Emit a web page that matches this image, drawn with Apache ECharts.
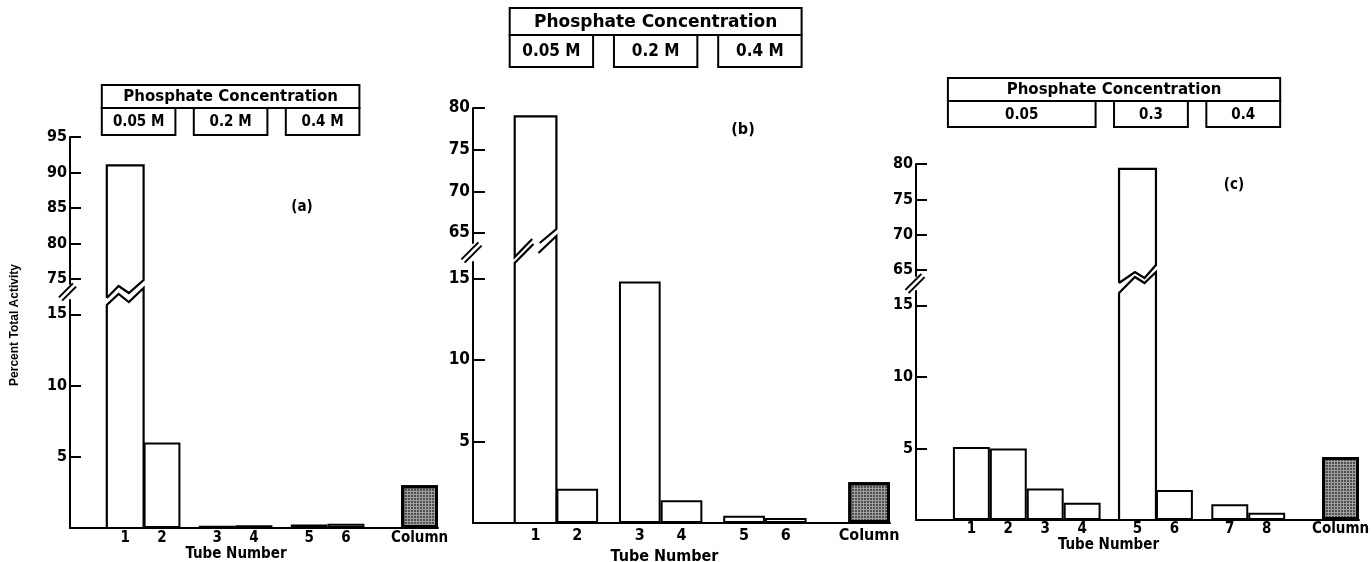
<!DOCTYPE html>
<html><head><meta charset="utf-8">
<script src="https://cdn.jsdelivr.net/npm/echarts@6/dist/echarts.min.js"></script>
<style>html,body{margin:0;padding:0;background:#fff}#c{width:1371px;height:562px}</style>
</head><body><div id="c"></div>
<script>
// ---------------- data ----------------
const tubesA = [['1','2'],['3','4'],['5','6']];
const valuesA = [[91, 6.0],[0.15, 0.2],[0.25, 0.3]];
const columnA = 3.0;
const concA = ['0.05 M','0.2 M','0.4 M'];
const lowTicksA = [5, 10, 15];
const highTicksA = [75, 80, 85, 90, 95];

const tubesB = [['1','2'],['3','4'],['5','6']];
const valuesB = [[79, 2.1],[14.8, 1.4],[0.45, 0.3]];
const columnB = 2.5;
const concB = ['0.05 M','0.2 M','0.4 M'];
const lowTicksB = [5, 10, 15];
const highTicksB = [65, 70, 75, 80];

const tubesC = [['1','2','3','4'],['5','6'],['7','8']];
const valuesC = [[5.1, 5.0, 2.2, 1.2],[79.3, 2.1],[1.1, 0.5]];
const columnC = 4.4;
const concC = ['0.05','0.3','0.4'];
const lowTicksC = [5, 10, 15];
const highTicksC = [65, 70, 75, 80];

const headerTitle = 'Phosphate Concentration';
const columnLabel = 'Column';
const xName = 'Tube Number';
const yName = 'Percent Total Activity';
const panelLabels = ['(a)', '(b)', '(c)'];

// ---------------- styles / layout ----------------
const FONT_NUM = "'Liberation Sans Narrow','DejaVu Sans Condensed','Liberation Sans',sans-serif";
const FONT_HEAD = "'DejaVu Sans','Liberation Sans',sans-serif";

const zigA = {
  lower: [[[0,'end'],[0,13],[0.32,2],[0.6,10],[1,-4],[1,'end']]],
  upper: [[[0,6],[0,'end'],[1,'end'],[1,-12],[0.6,1],[0.32,-6],[0,6]]]
};
const slashB = {
  lower: [[[0,'end'],[0,10.5],[0.45,-8.5]], [[0.57,0.5],[1,-16.5],[1,'end']]],
  upper: [[[0.42,-13.5],[0,4.5],[0,'end'],[1,'end'],[1,-23.5],[0.6,-9.5]]]
};
const zigC = {
  lower: [[[0,'end'],[0,9.5],[0.43,-6.5],[0.69,-0.5],[1,-11.5],[1,'end']]],
  upper: [[[0,-0.5],[0,'end'],[1,'end'],[1,-18.5],[0.69,-5.5],[0.43,-11.5],[0,-0.5]]]
};

const panels = [
  {tubes: tubesA, values: valuesA, column: columnA, conc: concA, lowTicks: lowTicksA, highTicks: highTicksA,
   left: 70, right: 438, lowTop: 300, lowBottom: 528, upTop: 137, upBottom: 284, lowMax: 16, upMin: 74.3, upMax: 95,
   font: 16, xFont: 15, labelMargin: 3, nameGap: 19, namePad: 36, tickLen: 11,
   head: {top: 85, titleH: 23, subH: 27, font: 15, subFont: 15, shift: -5},
   shape: zigA, brk: {dx: -2.5, half: 7}, label: {x: 302, y: 207, size: 15}},
  {tubes: tubesB, values: valuesB, column: columnB, conc: concB, lowTicks: lowTicksB, highTicks: highTicksB,
   left: 473, right: 890, lowTop: 262, lowBottom: 523, upTop: 108, upBottom: 243, lowMax: 16, upMin: 63.8, upMax: 80,
   font: 17, xFont: 16, labelMargin: 5, nameGap: 26, namePad: 34, tickLen: 12,
   head: {top: 8, titleH: 27, subH: 32, font: 17, subFont: 17, shift: -5},
   shape: slashB, brk: {dx: -1.5, half: 8.5}, label: {x: 743, y: 130, size: 16}},
  {tubes: tubesC, values: valuesC, column: columnC, conc: concC, lowTicks: lowTicksC, highTicks: highTicksC,
   left: 916, right: 1359, lowTop: 291, lowBottom: 520, upTop: 164, upBottom: 276, lowMax: 16, upMin: 64.16, upMax: 80,
   font: 16, xFont: 15, labelMargin: 2, nameGap: 18, namePad: 58, tickLen: 11,
   head: {top: 78, titleH: 23, subH: 26, font: 15, subFont: 15, shift: -5},
   shape: zigC, brk: {dx: -1, half: 8}, label: {x: 1234, y: 185, size: 15}}
];

function build(p) {
  let cursor = 2;
  const items = [], spans = [];
  p.tubes.forEach((g, gi) => {
    const start = cursor;
    g.forEach((t, ti) => { items.push({c: cursor + 1, v: p.values[gi][ti], label: t}); cursor += 2; });
    spans.push([start, cursor]);
    cursor += (gi < p.tubes.length - 1) ? 1 : 2;
  });
  items.push({c: cursor + 1, v: p.column, label: columnLabel, col: true});
  cursor += 2;
  const total = cursor;
  const categories = Array.from({length: total + 1}, () => '');
  const barData = Array.from({length: total + 1}, () => '-');
  const tall = [];
  items.forEach(it => {
    categories[it.c] = it.label;
    if (it.v > p.lowMax) { tall.push([it.c, it.v]); return; }
    barData[it.c] = it.col ? {
      value: it.v,
      itemStyle: {color: '#a0a0a0', borderColor: '#000', borderWidth: 3,
        decal: {symbol: 'circle', symbolSize: 0.9, color: '#2a2a2a', dashArrayX: [2, 1], dashArrayY: [2, 1]}}
    } : it.v;
  });
  return {total, categories, barData, tall, spans};
}

const option = {animation: false, backgroundColor: '#fff', grid: [], xAxis: [], yAxis: [], series: [], graphic: []};

function pieceRenderer(p, lines, useTop) {
  const c = (p.lowTop + p.upBottom) / 2;
  return function (params, api) {
    const k = api.value(0), v = api.value(1);
    const cx = api.coord([k, 0])[0];
    const hw = api.size([1, 0])[0];
    const x0 = cx - hw, x1 = cx + hw;
    const yEnd = useTop ? api.coord([k, v])[1] : api.coord([k, 0])[1];
    return {type: 'group', children: lines.map(line => ({
      type: 'polyline',
      shape: {points: line.map(([fx, dy]) => [x0 + fx * (x1 - x0), dy === 'end' ? yEnd : c + dy])},
      style: {stroke: '#000', fill: 'none', lineWidth: 2.2, lineJoin: 'miter'}
    }))};
  };
}

panels.forEach((p, pi) => {
  const b = build(p);
  const gi = option.grid.length;
  const w = p.right - p.left;
  const half = w / b.total;
  option.grid.push({left: p.left, top: p.lowTop, width: w, height: p.lowBottom - p.lowTop, outerBoundsMode: 'none', containLabel: false});
  option.grid.push({left: p.left, top: p.upTop, width: w, height: p.upBottom - p.upTop, outerBoundsMode: 'none', containLabel: false});
  option.xAxis.push({
    gridIndex: gi, type: 'category', data: b.categories, boundaryGap: false,
    axisLine: {show: true, lineStyle: {color: '#000', width: 2}}, axisTick: {show: false},
    axisLabel: {interval: 0, color: '#000', fontWeight: 'bold', fontFamily: FONT_NUM, fontSize: p.xFont, margin: p.labelMargin},
    splitLine: {show: false},
    name: xName, nameLocation: 'middle', nameGap: p.nameGap,
    nameTextStyle: {color: '#000', fontWeight: 'bold', fontFamily: FONT_NUM, fontSize: p.xFont, padding: [0, p.namePad, 0, 0]}
  });
  option.xAxis.push({gridIndex: gi + 1, type: 'category', data: b.categories, boundaryGap: false, show: false});
  const yCommon = (ticks) => ({
    axisLine: {show: true, onZero: false, lineStyle: {color: '#000', width: 2}},
    axisTick: {show: true, inside: true, length: p.tickLen, lineStyle: {color: '#000', width: 2}, customValues: ticks},
    axisLabel: {customValues: ticks, color: '#000', fontWeight: 'bold', fontFamily: FONT_NUM, fontSize: p.font, margin: 3},
    splitLine: {show: false}
  });
  option.yAxis.push(Object.assign({gridIndex: gi, type: 'value', min: 0, max: p.lowMax}, yCommon(p.lowTicks)));
  option.yAxis.push(Object.assign({gridIndex: gi + 1, type: 'value', min: p.upMin, max: p.upMax}, yCommon(p.highTicks)));

  option.series.push({
    type: 'bar', xAxisIndex: gi, yAxisIndex: gi, data: b.barData, barWidth: half * 2,
    itemStyle: {color: '#fff', borderColor: '#000', borderWidth: 2}, clip: true
  });
  option.series.push({type: 'custom', xAxisIndex: gi, yAxisIndex: gi, clip: false, data: b.tall,
    renderItem: pieceRenderer(p, p.shape.lower, false)});
  option.series.push({type: 'custom', xAxisIndex: gi + 1, yAxisIndex: gi + 1, clip: false, data: b.tall,
    renderItem: pieceRenderer(p, p.shape.upper, true)});
  // axis break marks
  option.series.push({type: 'custom', xAxisIndex: gi, yAxisIndex: gi, clip: false, data: [[0, 0]],
    renderItem: function (params, api) {
      const ax = api.coord([0, 0])[0] + p.brk.dx;
      const c = (p.lowTop + p.upBottom) / 2;
      const h = p.brk.half;
      return {type: 'group', children: [-1.6, 1.6].map(s => ({
        type: 'line', shape: {x1: ax - h + s, y1: c + h + s, x2: ax + h + s, y2: c - h + s},
        style: {stroke: '#000', lineWidth: 2}
      }))};
    }});
  // header boxes
  const first = b.spans[0][0], last = b.spans[b.spans.length - 1][1];
  const hdr = b.spans.concat([[first, last]]);
  option.series.push({type: 'custom', xAxisIndex: gi + 1, yAxisIndex: gi + 1, clip: false, data: hdr,
    renderItem: function (params, api) {
      const i = params.dataIndex;
      const x0 = api.coord([api.value(0), p.upMax])[0] + p.head.shift;
      const x1 = api.coord([api.value(1), p.upMax])[0] + p.head.shift;
      const isTitle = i === b.spans.length;
      const y0 = isTitle ? p.head.top : p.head.top + p.head.titleH;
      const hh = isTitle ? p.head.titleH : p.head.subH;
      return {type: 'group', children: [
        {type: 'rect', shape: {x: x0, y: y0, width: x1 - x0, height: hh}, style: {fill: '#fff', stroke: '#000', lineWidth: 2}},
        {type: 'text', x: (x0 + x1) / 2, y: y0 + hh / 2 + 1, style: {
          text: isTitle ? headerTitle : p.conc[i], fill: '#000', fontWeight: 'bold',
          fontFamily: isTitle ? FONT_HEAD : FONT_NUM, fontSize: isTitle ? p.head.font : p.head.subFont,
          align: 'center', verticalAlign: 'middle'}}
      ]};
    }});
  option.graphic.push({type: 'text', x: p.label.x, y: p.label.y, style: {
    text: panelLabels[pi], fill: '#000', fontWeight: 'bold', fontFamily: FONT_NUM, fontSize: p.label.size,
    align: 'center', verticalAlign: 'middle'}});
});

option.graphic.push({type: 'text', x: 15, y: 325, rotation: Math.PI / 2, style: {
  text: yName, fill: '#000', fontWeight: 'bold', fontFamily: "'Liberation Sans',sans-serif", fontSize: 12,
  align: 'center', verticalAlign: 'middle'}});

const chart = echarts.init(document.getElementById('c'), null, {renderer: 'canvas'});
chart.setOption(option);
</script>
</body></html>
